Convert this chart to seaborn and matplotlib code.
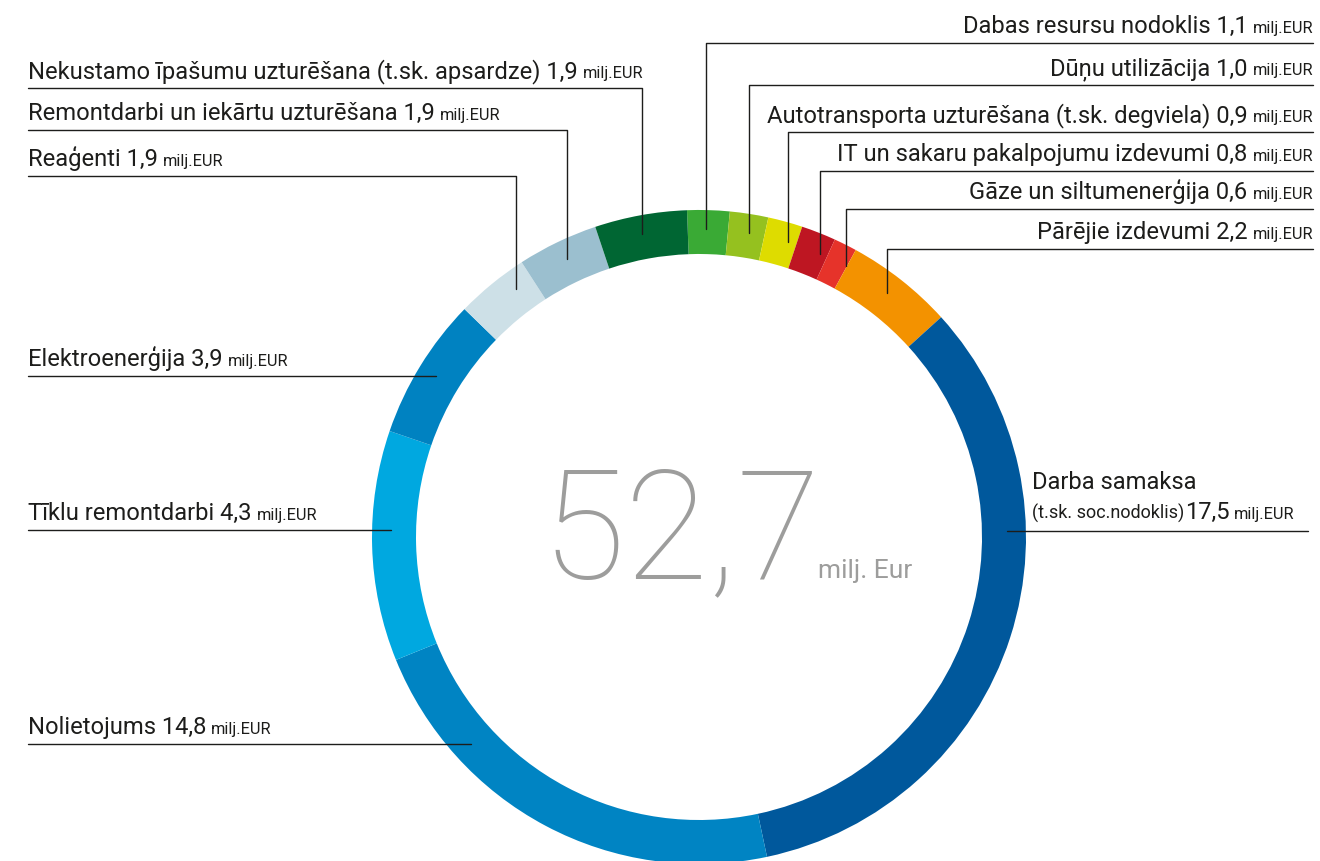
import matplotlib
matplotlib.use("Agg")
import matplotlib.pyplot as plt
import seaborn as sns
import numpy as np

# ---- data, clockwise from the top of the ring ----
categories = [
    "Dabas resursu nodoklis",
    "Dūņu utilizācija",
    "Autotransporta uzturēšana (t.sk. degviela)",
    "IT un sakaru pakalpojumu izdevumi",
    "Gāze un siltumenerģija",
    "Pārējie izdevumi",
    "Darba samaksa",
    "Nolietojums",
    "Tīklu remontdarbi",
    "Elektroenerģija",
    "Reaģenti",
    "Remontdarbi un iekārtu uzturēšana",
    "Nekustamo īpašumu uzturēšana (t.sk. apsardze)",
]
values = [1.1, 1.0, 0.9, 0.8, 0.6, 2.2, 17.5, 14.8, 4.3, 3.9, 1.9, 1.9, 1.9]
# slice sizes as drawn in the source graphic (it is not drawn to scale)
slice_sizes = [1.1, 1.0, 0.9, 0.9, 0.6, 2.8, 17.6, 11.7, 6.0, 3.7, 1.9, 2.1, 2.4]
colors = ["#3aaa35", "#95c11f", "#dedc00", "#be1622", "#e6332a", "#f39200",
          "#00589c", "#0084c3", "#00a8e0", "#0082c1", "#cde0e7", "#9bbfcf",
          "#006633"]
total_label = "52,7"
unit = "milj.EUR"

# label layout in pixels (side, y of the rule line, x of the vertical leader)
layout = [
    ("right", 43, 706),
    ("right", 85, 749),
    ("right", 132, 788),
    ("right", 171, 820),
    ("right", 209, 846),
    ("right", 249, 887),
    ("right", 531, None),
    ("left", 744, None),
    ("left", 530, None),
    ("left", 376, None),
    ("left", 176, 516),
    ("left", 130, 567),
    ("left", 88, 642),
]

W, H = 1320, 861
cx, cy, R = 699, 537, 327
ring_w = 44
r_lead = 308
left_x, right_x = 28, 1313
ink = "#1d1d1b"
grey = "#9d9d9c"

sns.set_theme(style="white")
plt.rcParams["font.family"] = ["Roboto", "DejaVu Sans"]

fig = plt.figure(figsize=(W / 100, H / 100), dpi=100)
ax = fig.add_axes([0, 0, 1, 1])


def Y(y):
    return H - y


ax.pie(slice_sizes, colors=colors, startangle=92.1, counterclock=False,
       center=(cx, Y(cy)), radius=R,
       wedgeprops=dict(width=ring_w, linewidth=0))
ax.set_xlim(0, W)
ax.set_ylim(0, H)
ax.set_aspect("equal")
ax.axis("off")

fig.canvas.draw()
renderer = fig.canvas.get_renderer()


def width_px(t):
    return t.get_window_extent(renderer=renderer).width


def chain(pieces, x, base, align):
    """pieces: list of (text, size, gap_before)"""
    cur = x
    if align == "left":
        for txt, size, gap in pieces:
            cur += gap
            t = ax.text(cur, Y(base), txt, fontsize=size, color=ink,
                        ha="left", va="baseline")
            cur += width_px(t)
    else:
        for txt, size, gap in reversed(pieces):
            t = ax.text(cur, Y(base), txt, fontsize=size, color=ink,
                        ha="right", va="baseline")
            cur -= width_px(t) + gap


main_fs, unit_fs = 17.1, 11.8

for name, val, (side, ly, vx) in zip(categories, values, layout):
    num = f"{val:.1f}".replace(".", ",")
    if name == "Darba samaksa":
        chain([("Darba samaksa", main_fs, 0)], 1032, ly - 42, "left")
        chain([("(t.sk. soc.nodoklis)", 13.0, 0), (num, main_fs, 1),
               (unit, unit_fs, 4)], 1032, ly - 12, "left")
        x_ring = cx + np.sqrt(r_lead ** 2 - (ly - cy) ** 2)
        ax.plot([x_ring, 1308], [Y(ly), Y(ly)], color=ink, lw=1.0)
        continue
    pieces = [(f"{name} {num}", main_fs, 0), (unit, unit_fs, 5)]
    if side == "left":
        chain(pieces, left_x, ly - 10, "left")
        if vx is None:
            x_end = cx - np.sqrt(r_lead ** 2 - (ly - cy) ** 2)
            ax.plot([left_x, x_end], [Y(ly), Y(ly)], color=ink, lw=1.0)
        else:
            y_end = cy - np.sqrt(r_lead ** 2 - (vx - cx) ** 2)
            ax.plot([left_x, vx, vx], [Y(ly), Y(ly), Y(y_end)], color=ink, lw=1.0)
    else:
        chain(pieces, right_x, ly - 10, "right")
        y_end = cy - np.sqrt(r_lead ** 2 - (vx - cx) ** 2)
        ax.plot([right_x, vx, vx], [Y(ly), Y(ly), Y(y_end)], color=ink, lw=1.0)

# total in the middle
ax.text(681, Y(578), total_label, fontsize=110, color=grey, fontweight="light",
        ha="center", va="baseline")
ax.text(818, Y(578), "milj. Eur", fontsize=19, color=grey, fontweight="normal",
        ha="left", va="baseline")

fig.savefig("out.png", dpi=100)
